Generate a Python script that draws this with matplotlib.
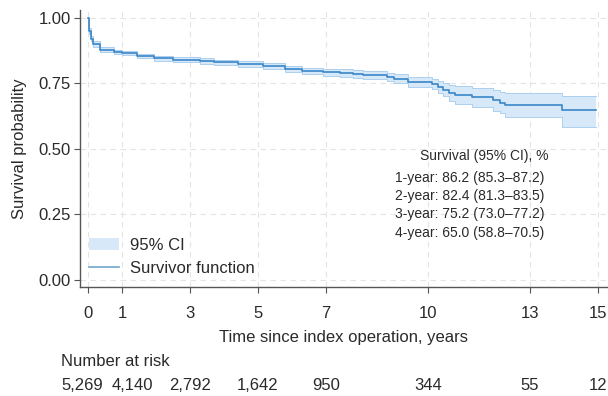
import matplotlib.pyplot as plt
from matplotlib.patches import Patch
from matplotlib.lines import Line2D
import matplotlib.transforms as mtransforms

plt.rcParams['font.family'] = ['Liberation Sans', 'DejaVu Sans']

##### survivor function (step changes)
times = [0, 0.03, 0.08, 0.15, 0.35, 0.75, 1.0, 1.45, 1.95, 2.5, 3.3, 3.7, 4.4,
         5.15, 5.8, 6.3, 6.9, 7.4, 7.8, 8.1, 8.8, 9.0, 9.4, 10.1, 10.3, 10.45,
         10.6, 10.8, 11.3, 11.9, 12.1, 12.25, 13.95, 14.95]
surv = [1.0, 0.95, 0.92, 0.90, 0.878, 0.870, 0.866, 0.855, 0.846, 0.840, 0.835,
        0.830, 0.825, 0.817, 0.805, 0.797, 0.792, 0.789, 0.786, 0.782, 0.775,
        0.767, 0.756, 0.748, 0.737, 0.725, 0.714, 0.706, 0.697, 0.685, 0.677,
        0.668, 0.648, 0.648]
lower = [1.0, 0.94, 0.91, 0.89, 0.869, 0.861, 0.857, 0.846, 0.837, 0.830, 0.825,
         0.820, 0.814, 0.806, 0.793, 0.785, 0.779, 0.775, 0.772, 0.767, 0.760,
         0.750, 0.738, 0.728, 0.714, 0.700, 0.682, 0.672, 0.660, 0.646, 0.636,
         0.622, 0.584, 0.584]
upper = [1.0, 0.96, 0.93, 0.91, 0.887, 0.879, 0.875, 0.864, 0.855, 0.850, 0.845,
         0.840, 0.836, 0.828, 0.817, 0.809, 0.805, 0.803, 0.800, 0.797, 0.790,
         0.784, 0.774, 0.768, 0.760, 0.750, 0.744, 0.740, 0.733, 0.724, 0.718,
         0.714, 0.702, 0.702]

xticks = [0, 1, 3, 5, 7, 10, 13, 15]
yticks = [0.0, 0.25, 0.5, 0.75, 1.0]

risk_times = [0, 1, 3, 5, 7, 10, 13, 15]
risk_counts = ['5,269', '4,140', '2,792', '1,642', '950', '344', '55', '12']

summary_title = 'Survival (95% CI), %'
summary_lines = ['1-year: 86.2 (85.3\u201387.2)',
                 '2-year: 82.4 (81.3\u201383.5)',
                 '3-year: 75.2 (73.0\u201377.2)',
                 '4-year: 65.0 (58.8\u201370.5)']

line_col = '#3a86c8'
fill_col = '#d7e8f8'
edge_col = '#acd0ef'
grid_col = '#e4e4e4'
spine_col = '#555555'
text_col = '#2a2a2a'

fig = plt.figure(figsize=(6.08, 3.96), dpi=100)
ax = fig.add_axes([80 / 608, 109 / 396, 527 / 608, 277 / 396])

##### CI band and survivor curve
ax.fill_between(times, lower, upper, step='post', color=fill_col, lw=0)
ax.step(times, lower, where='post', color=edge_col, lw=0.7)
ax.step(times, upper, where='post', color=edge_col, lw=0.7)
ax.step(times, surv, where='post', color=line_col, lw=1.2)

ax.set_xlim(-0.235, 15.26)
ax.set_ylim(-0.027, 1.03)
ax.set_xticks(xticks)
ax.set_yticks(yticks)
ax.set_yticklabels(['%.2f' % v for v in yticks])
ax.grid(True, ls=(0, (5, 4)), color=grid_col, lw=0.8)
ax.set_axisbelow(True)
for s in ['top', 'right']:
    ax.spines[s].set_visible(False)
for s in ['left', 'bottom']:
    ax.spines[s].set_color(spine_col)
    ax.spines[s].set_linewidth(1.0)
ax.tick_params(axis='x', length=4.5, color=spine_col, labelsize=12, pad=9,
               labelcolor=text_col)
ax.tick_params(axis='y', length=4.5, color=spine_col, labelsize=12, pad=2,
               labelcolor=text_col)
ax.set_xlabel('Time since index operation, years', fontsize=12, labelpad=7,
              color=text_col)
ax.set_ylabel('Survival probability', fontsize=12, labelpad=8, color=text_col)

##### legend
handles = [Patch(facecolor=fill_col, edgecolor='none'),
           Line2D([0], [0], color='#6fa7cc', lw=1.2)]
leg = ax.legend(handles, ['95% CI', 'Survivor function'], loc='lower left',
                bbox_to_anchor=(0.017, 0.04), frameon=False, fontsize=12,
                handlelength=1.8, handletextpad=0.65, labelspacing=0.5,
                borderpad=0, borderaxespad=0)
for t in leg.get_texts():
    t.set_color(text_col)

##### summary text
ax.text(0.768, 0.473, summary_title, transform=ax.transAxes, ha='center',
        va='center', fontsize=10, color=text_col)
ty = [0.394, 0.329, 0.264, 0.195]
for yy, s in zip(ty, summary_lines):
    ax.text(0.598, yy, s, transform=ax.transAxes, ha='left', va='center',
            fontsize=10, color=text_col)

##### number at risk table
fig.text(61 / 608, 34 / 396, 'Number at risk', fontsize=12, va='center',
         color=text_col)
trans = mtransforms.blended_transform_factory(ax.transData, fig.transFigure)
shift = {0: -6, 1: 10}  # px nudges so the first two numbers don't collide
for i, (t, n) in enumerate(zip(risk_times, risk_counts)):
    off = mtransforms.offset_copy(trans, fig=fig, x=shift.get(i, 0), y=0,
                                  units='dots')
    ax.text(t, 11 / 396, n, transform=off, ha='center', va='center',
            fontsize=12, color=text_col)

plt.savefig('out.png', dpi=100)
